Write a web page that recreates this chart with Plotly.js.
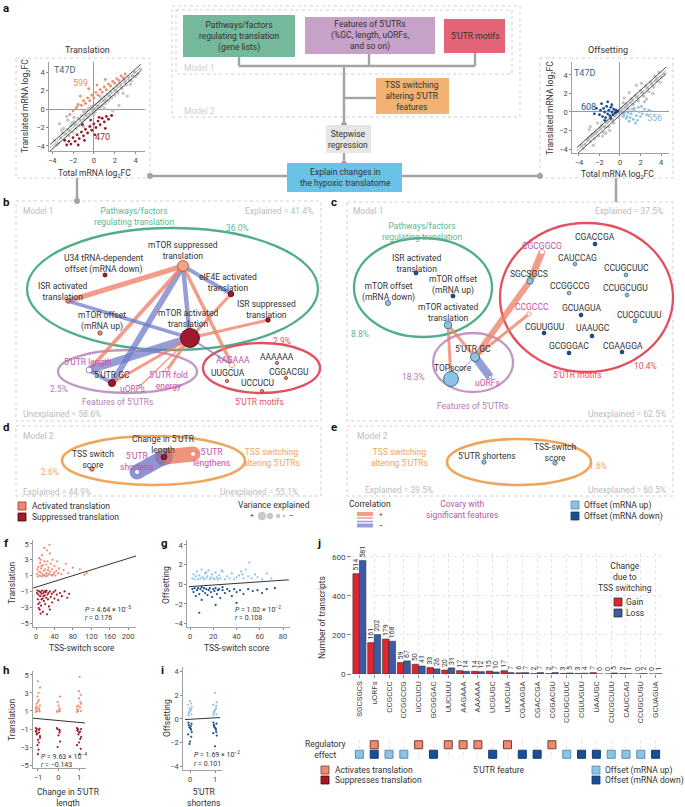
<!DOCTYPE html>
<html><head><meta charset="utf-8">
<script src="https://cdn.plot.ly/plotly-3.0.1.min.js"></script>
<style>body{margin:0;background:#fff}#chart{width:685px;height:807px}</style>
</head><body><div id="chart"></div><script>
// ---------------- DATA ----------------
// panel a: translation scatter (T47D)
const translGrayX=[-3.6,-3.2,-3,-2.8,-2.5,-2.4,-2.2,-2,-1.9,-1.7,-1.5,-1.4,-1.2,-1.1,-1,-0.9,-0.7,-0.6,-0.5,-0.4,-0.2,-0.1,0,0.1,0.2,0.3,0.5,0.6,0.7,0.8,1,1.1,1.3,1.4,1.6,1.7,1.9,2,2.2,2.3,2.5,2.7,2.9,3.1,3.3,3.6,3.9,4.2,-3.3,-2.6,3.2,2.4,1.8,-0.3,-1.6,4.5,-3.8,-3.4,-2.9,-2.7,-2.3,-2.1,-1.8,-1.3,-0.8,-0.6,-0.3,0.4,0.9,1.2,1.5,2.1,2.6,3,3.4,3.7,4,0,-1.9,-2.5,1,2.8,-3.1,3.5,0.6,-1];
const translGrayY=[-3.9,-3.1,-2.6,-3.3,-2.2,-2.9,-1.8,-2.5,-1.4,-2.1,-1,-1.8,-0.7,-1.5,-0.3,-1.1,-0.2,-0.9,0.1,-0.6,0.3,-0.4,0.1,-0.3,0.5,0,0.8,0.2,1.1,0.4,1.3,0.6,1.6,0.9,1.9,1.2,2.2,1.5,2.5,1.8,2.8,2.2,3.2,2.6,3.5,3.1,4,3.8,-1.6,-0.8,1.4,0.4,-0.2,-1.8,0.3,4.3,-3.4,-3.7,-2.1,-2.7,-2.4,-1.5,-1.7,-1.2,-0.6,-0.1,0,0.3,0.9,0.9,1.4,2,2.4,2.9,3.1,3.6,3.5,-0.6,-0.9,-1.2,0.1,1.7,-2.3,2.7,1.4,-1.9];
const translUpX=[-2.3,-2,-1.7,-1.5,-1.2,-1,-0.8,-0.6,-0.4,-0.2,0,0.2,0.4,0.6,0.8,1,1.2,1.4,1.6,1.8,2,2.2,2.4,2.6,2.8,3,-0.5,0.3,1.1,-1.3];
const translUpY=[-0.6,-0.2,0.1,0.5,0.4,0.9,0.6,1.2,0.9,1.5,1.2,1.8,1.5,2.1,1.8,2.4,2.1,2.7,2.5,3,2.8,3.3,3.1,3.6,3.4,3.8,2.2,2.6,3.2,1.4];
const translDownX=[-2.6,-2.4,-2.2,-2,-1.8,-1.6,-1.4,-1.2,-1,-0.8,-0.6,-0.4,-0.2,0,0.2,0.4,0.6,0.8,1,1.2,1.4,1.7,-1.5,-0.9,0.1,-2.8,-0.3,0.5,1.1,-1.1];
const translDownY=[-3.9,-3.5,-3.8,-3.1,-3.5,-2.8,-3.2,-2.5,-2.9,-2.2,-2.6,-1.9,-2.3,-1.6,-2,-1.3,-1.7,-1,-1.4,-0.8,-1.1,-0.7,-3.9,-3.4,-2.8,-3.4,-1.2,-0.9,-2.1,-1.7];
// panel a: offsetting scatter
const offGrayX=[-3.8,-3.4,-3.1,-2.9,-2.7,-2.5,-2.3,-2.1,-1.9,-1.6,-1.3,-1.1,-0.9,-0.6,-0.4,-0.1,0.1,0.3,0.6,0.8,1.1,1.3,1.5,1.8,2,2.3,2.5,2.8,3,3.3,3.6,3.9,4.3,-3,-2.2,-1.4,0.4,1.6,2.6,3.4,-0.8,0.9,2.1,-2.6,3.8,-3.6,-3.2,-2.8,-2.4,-2,-1.8,-1.5,-1.2,-0.7,-0.5,-0.3,0,0.2,0.5,0.7,1,1.2,1.7,2.2,2.7,3.1,3.5,4,-1,1.4,2.4,-2.9,3.2,0.3,-1.7];
const offGrayY=[-3.6,-3.5,-2.8,-3.2,-2.4,-2.9,-2.1,-2.6,-1.7,-2.2,-1.1,-1.6,-0.7,-1.2,-0.2,-0.6,0.4,-0.1,0.9,0.3,1.4,0.8,1.8,1.2,2.3,1.7,2.8,2.2,3.2,2.7,3.6,3.2,4.1,-1.9,-1.2,-2.3,1.5,2.9,1.4,3.9,0.6,2.1,3.1,-3.6,4.3,-3.9,-3,-2.6,-2.3,-1.8,-1.4,-1.6,-1,-0.9,-0.4,0.2,0,0.1,0.5,0.7,1,1.3,1.6,2.1,2.6,3,3.4,3.8,-2,0.4,1.1,-1.6,2,1,-2.6];
const offDownX=[-2,-1.9,-1.7,-1.6,-1.5,-1.4,-1.3,-1.2,-1.1,-1,-0.9,-0.8,-0.7,-0.6,-0.5,-0.4,-0.3,-0.2,-1.8,-1.2,-0.8,-2.3,-2.5,-1.5,-0.9];
const offDownY=[-0.3,0.2,-0.5,0.4,0,-0.6,0.6,-0.2,0.2,-0.4,0.5,0,-0.3,0.3,-0.1,0.2,0,0.1,0.9,1.1,0.8,0.4,-0.2,-0.9,-0.7];
const offUpX=[0.2,0.4,0.5,0.7,0.8,1,1.1,1.3,1.4,1.6,1.7,1.9,2,2.2,2.4,2.6,0.9,1.2,1.8,2.8,0.6,1.5,2.1,3,0.3];
const offUpY=[-0.1,-0.3,0,-0.5,-0.1,-0.6,-0.2,-0.8,0.1,-0.4,-0.9,0,-0.5,-0.2,0.3,-0.3,-1,0.3,0.5,0.2,-0.7,-1.2,0.6,0.1,-0.5];
const diagX=[-4.2,4.5];
const diagMid=[-4.2,4.5];
const diagUpper=[-3.85,4.85];
const diagLower=[-4.55,4.15];
// panel f: translation vs TSS-switch score
const fActX=[2,4,5,6,7,8,9,10,11,12,13,14,15,16,17,18,19,20,21,22,23,24,25,26,27,28,29,30,32,33,35,36,38,40,42,44,46,48,50,55,60,65,70,80,95,105,110,30,18,10,3,12,25,40,36];
const fActY=[1.2,0.9,2.1,1.5,3.2,1,2.6,1.4,1.9,0.9,3.6,1.2,2.3,1,1.6,2.8,1.1,1.8,0.9,2.4,1.3,4.2,1,1.7,2,1.2,4.9,1.5,2.5,1.1,1.8,3,1.2,2.2,1,1.6,2.8,1.3,1.9,1.2,1.7,2.5,1.3,2,1.8,1.1,1.3,3.8,4.5,3,1.8,2.2,2.8,1.4,1];
const fSupX=[2,3,4,5,6,7,8,9,10,11,12,13,14,15,16,17,18,19,20,21,22,23,24,25,26,27,28,30,32,34,35,38,40,42,45,48,52,56,62,68,72,8,12,16,20,5,30,10];
const fSupY=[-1.2,-0.9,-2,-1.4,-3.1,-1,-2.4,-1.6,-1.1,-2.8,-1.3,-0.9,-1.9,-3.6,-1.2,-2.2,-1,-1.5,-2.6,-1.1,-1.8,-0.9,-3.9,-1.4,-2,-1.2,-2.9,-1,-1.7,-1.3,-2.4,-1.1,-1.9,-0.9,-1.4,-2.1,-1.2,-1.6,-1,-1.8,-1.3,-3.3,-2,-1.6,-1,-2.6,-3.3,-3.8];
const fFitX=[-6,217], fFitY=[-0.57,3.48];
// panel g: offsetting vs TSS-switch score
const gUpX=[2,3,4,5,6,7,8,9,10,11,12,13,14,15,16,17,18,19,20,21,22,23,24,25,26,28,30,32,34,36,38,40,42,44,46,48,50,51,53,56,58,62,66,70,45,14,27];
const gUpY=[0.6,1,0.5,0.8,1.3,0.5,0.9,0.6,1.5,0.7,0.5,1.1,0.6,0.8,1.4,0.5,0.7,1,0.6,0.5,1.2,0.7,0.5,0.9,0.6,1.3,0.5,0.8,0.6,1.1,0.5,0.7,0.9,1.3,0.6,1.5,0.8,2.2,0.6,1,0.7,0.5,1.1,0.6,1,1.2,1.4];
const gDownX=[2,3,4,5,6,7,8,9,10,11,12,13,14,15,16,17,18,19,20,21,22,23,24,25,26,28,30,32,34,36,38,40,43,46,50,54,58,62,66,73,8,22,40,10,28];
const gDownY=[-0.5,-0.8,-0.4,-1.2,-0.6,-0.4,-1,-0.5,-1.6,-0.7,-0.4,-0.9,-0.5,-1.1,-0.6,-0.4,-0.8,-1.3,-0.5,-0.7,-0.4,-1,-0.6,-0.5,-1.4,-0.6,-0.9,-0.5,-0.7,-1.2,-0.5,-0.8,-0.6,-1,-0.5,-0.7,-0.6,-0.9,-0.5,-0.4,-2.9,-2.1,-1.9,-0.3,-0.3];
const gFitX=[-1,85], gFitY=[-0.25,0.45];
// panel h: translation vs change in 5'UTR length
const hActX=[-1.05,-0.95,-1.1,-0.9,-1,-1.08,-0.92,-1.02,-0.97,-1.06,-0.94,-1,-1.04,-0.96,-1.1,-0.9,-0.05,0.05,-0.08,0.08,0,0.04,-0.04,0.06,0.95,1.05,0.9,1.1,1,0.92,1.08,0.97,1.03,0.94,1.06,1,0.9,1.1];
const hActY=[1,1.3,0.9,1.6,2,1.2,0.95,2.6,3,1.8,1.1,4.3,1.5,2.2,1.4,3.6,1,1.3,0.9,2.6,1.6,1.1,2,0.95,1,1.4,0.9,1.8,2.4,1.2,2.8,1.6,4.8,1.1,2,3.2,1.5,1];
const hSupX=[-1.05,-0.95,-1.1,-0.9,-1,-1.08,-0.92,-1.02,-0.97,-1.06,-0.94,-1,-1.04,-0.96,-1.1,-0.9,-0.05,0.05,-0.08,0.08,0,0.04,-0.04,0.06,0.95,1.05,0.9,1.1,1,0.92,1.08,0.97,1.03,0.94,1.06,1,0.9,1.1];
const hSupY=[-1,-1.4,-0.9,-1.8,-2.2,-1.2,-0.95,-2.8,-3.3,-1.6,-1.1,-3.8,-1.5,-2.5,-1.3,-2,-1,-1.4,-0.9,-2.4,-1.7,-1.1,-3,-1.2,-1,-1.3,-0.9,-1.9,-2.5,-1.2,-3.2,-1.6,-3.8,-1.1,-2.1,-1.4,-2.8,-1];
const hFitX=[-1.24,1.29], hFitY=[0.2,-0.33];
// panel i: offsetting vs 5'UTR shortens
const iUpX=[-0.05,0.04,-0.07,0.06,0,-0.03,0.07,-0.06,0.02,0.05,-0.02,0.95,1.04,0.93,1.06,1,0.97,1.07,0.94,1.02,1.05,0.98];
const iUpY=[0.5,0.8,1.2,0.4,1.5,0.6,1,0.3,0.7,1.3,0.9,0.5,0.9,1.2,0.4,2.2,0.6,1.4,0.3,0.8,1.1,0.7];
const iDownX=[-0.05,0.04,-0.07,0.06,0,-0.03,0.07,-0.06,0.02,0.05,-0.02,0.03,0.95,1.04,0.93,1.06,1,0.97,1.07,0.94,1.02,1.05,0.98];
const iDownY=[-0.5,-0.9,-1.3,-0.4,-1.9,-0.7,-1.1,-0.3,-0.8,-1.5,-2.1,-0.6,-0.5,-0.9,-1.2,-0.4,-2.3,-0.6,-1.4,-0.3,-0.8,-1.1,-0.7];
const iFitX=[-0.2,1.2], iFitY=[-0.05,0.12];
// panel j: transcripts gaining / losing features
const motifs=['SGCSGCS','uORFs','CCGCCC','CCGGCCG','UCCUCU','GCGGGAC','UUCUUU','AAGAAA','AAAAAA','UCGUGC','UUGCUA','CGAAGGA','CGACCGA','CGGACGU','CCUGCUUC','CGUUGUU','UAAUGC','CUCGCUUU','CAUCCAG','CCUGCUGU','GCUAGUA'];
const gainCounts=[514,161,179,59,50,33,20,17,14,15,17,6,2,2,3,3,7,0,2,0,0];
const lossCounts=[581,202,168,67,41,26,31,14,12,10,7,7,7,7,5,4,0,5,1,2,1];
const translationEffect=['','act','','','act','','act','act','act','','act','','','act','','','','','','',''];
const offsetEffect=['up','down','up','up','','down','','','','down','','down','down','','up','down','down','up','up','up','down'];

// ---------------- STYLE / LAYOUT HELPERS ----------------
const F='Roboto, Arial, sans-serif';
const W=685,H=807;
const PX=x=>x/W, PY=y=>1-y/H;
const dx=(a,b)=>[PX(a),PX(b)], dy=(t,b)=>[PY(b),PY(t)];
const SAL='#f08a6e', DRED='#9e1a2c', LBLUE='#8cc2e2', DBLUE='#1b4f94', GRAY='#c6c6c6';
const GREEN='#52ad8a', PURP='#c197c6', PURPT='#b57bb8', RED='#e2505f', ORG='#f0a55d', MAG='#c254a4', DARK='#333', LG='#bdbdbd';
const POS='rgba(240,128,104,0.78)', NEG='rgba(110,120,200,0.72)';

function axBase(e){return Object.assign({showgrid:false,zeroline:false,showline:true,linecolor:'#8a8a8a',linewidth:0.8,ticks:'outside',ticklen:2,tickcolor:'#8a8a8a',tickfont:{size:7.5,color:'#444',family:F},fixedrange:true},e);}
function pts(x,y,c,xa,ya,s){return {type:'scatter',mode:'markers',x:x,y:y,xaxis:xa,yaxis:ya,marker:{color:c,size:s||2.6},hoverinfo:'skip',showlegend:false,cliponaxis:false};}
function ln(x,y,c,w,xa,ya){return {type:'scatter',mode:'lines',x:x,y:y,xaxis:xa,yaxis:ya,line:{color:c,width:w},hoverinfo:'skip',showlegend:false};}

const traces=[];
// panel a
traces.push(pts(translGrayX,translGrayY,GRAY,'x','y',3.4));
traces.push(pts(translUpX,translUpY,SAL,'x','y',2.8));
traces.push(pts(translDownX,translDownY,DRED,'x','y',2.8));
traces.push(ln(diagX,diagMid,'#777',0.6,'x','y'));
traces.push(ln(diagX,diagUpper,'#222',0.8,'x','y'));
traces.push(ln(diagX,diagLower,'#222',0.8,'x','y'));
traces.push(pts(offGrayX,offGrayY,GRAY,'x2','y2',3.4));
traces.push(pts(offDownX,offDownY,DBLUE,'x2','y2',2.8));
traces.push(pts(offUpX,offUpY,LBLUE,'x2','y2',2.8));
traces.push(ln(diagX,diagMid,'#777',0.6,'x2','y2'));
traces.push(ln(diagX,diagUpper,'#222',0.8,'x2','y2'));
traces.push(ln(diagX,diagLower,'#222',0.8,'x2','y2'));
// f g h i
traces.push(pts(fActX,fActY,SAL,'x3','y3',2.2));
traces.push(pts(fSupX,fSupY,DRED,'x3','y3',2.2));
traces.push(ln(fFitX,fFitY,'#333',1,'x3','y3'));
traces.push(pts(gUpX,gUpY,LBLUE,'x4','y4',2.2));
traces.push(pts(gDownX,gDownY,DBLUE,'x4','y4',2.2));
traces.push(ln(gFitX,gFitY,'#333',1,'x4','y4'));
traces.push(pts(hActX,hActY,SAL,'x5','y5',2.2));
traces.push(pts(hSupX,hSupY,DRED,'x5','y5',2.2));
traces.push(ln(hFitX,hFitY,'#333',1,'x5','y5'));
traces.push(pts(iUpX,iUpY,LBLUE,'x6','y6',2.2));
traces.push(pts(iDownX,iDownY,DBLUE,'x6','y6',2.2));
traces.push(ln(iFitX,iFitY,'#333',1,'x6','y6'));
// j bars
traces.push({type:'bar',x:motifs,y:gainCounts,xaxis:'x7',yaxis:'y7',marker:{color:'#e3232f',line:{color:'#333',width:0.6}},text:gainCounts.map(String),textposition:'outside',textangle:-90,constraintext:'none',textfont:{size:7,color:'#333',family:F},cliponaxis:false,hoverinfo:'skip',showlegend:false});
traces.push({type:'bar',x:motifs,y:lossCounts,xaxis:'x7',yaxis:'y7',marker:{color:'#3a5ca8',line:{color:'#333',width:0.6}},text:lossCounts.map(String),textposition:'outside',textangle:-90,constraintext:'none',textfont:{size:7,color:'#333',family:F},cliponaxis:false,hoverinfo:'skip',showlegend:false});
// regulatory effect squares
const actX=motifs.filter((m,i)=>translationEffect[i]==='act');
const upX=motifs.filter((m,i)=>offsetEffect[i]==='up');
const downX=motifs.filter((m,i)=>offsetEffect[i]==='down');
traces.push({type:'scatter',mode:'markers',x:actX,y:actX.map(()=>1),xaxis:'x7',yaxis:'y8',marker:{symbol:'square',size:8,color:'#ee8a72',line:{color:'#7a3e2e',width:1}},hoverinfo:'skip',showlegend:false,cliponaxis:false});
traces.push({type:'scatter',mode:'markers',x:upX,y:upX.map(()=>0),xaxis:'x7',yaxis:'y8',marker:{symbol:'square',size:8,color:'#8cc4e4',line:{color:'#5a8db0',width:1}},hoverinfo:'skip',showlegend:false,cliponaxis:false});
traces.push({type:'scatter',mode:'markers',x:downX,y:downX.map(()=>0),xaxis:'x7',yaxis:'y8',marker:{symbol:'square',size:8,color:'#1a4f96',line:{color:'#123a70',width:1}},hoverinfo:'skip',showlegend:false,cliponaxis:false});

// ---------------- DIAGRAM (pixel overlay) ----------------
const WH='#ffffff';
const nodesB={
 mtorSup:[183,266,5.5,'#f4a486','#a5523b'], u34:[105,275,2,DRED,'#500'], eif4e:[231,294,2.8,DRED,'#500'],
 isrAct:[68,301,2.2,SAL,'#8a3a28'], isrSup:[268,320,2.2,DRED,'#500'], mtorOffUp:[100,333,2.2,SAL,'#8a3a28'],
 mtorAct:[190,338,9.5,DRED,'#4a0a12'], aagaaa:[232,365,2.6,WH,SAL], aaaaaa:[277,363,1.6,SAL,'#8a3a28'],
 uugcua:[227,381,1.6,SAL,'#8a3a28'], cggacgu:[286,378,1.6,SAL,'#8a3a28'], uccucu:[262,391,1.6,SAL,'#8a3a28'],
 len:[89,370,3,WH,'#7b78b8'], gc:[112,383,3.6,DRED,'#500'], fold:[167,370,2.2,WH,SAL], uorfs:[140,386,1.5,WH,'#7b78b8']
};
const edgesB=[['mtorSup','isrAct',1,5],['mtorSup','eif4e',-1,4],['mtorSup','mtorAct',-1,4.5],['mtorSup','gc',-1,6],['mtorSup','len',1,4],['mtorSup','aagaaa',1,3.5],
 ['mtorAct','len',-1,8],['mtorAct','gc',1,3],['mtorAct','isrAct',-1,3.5],['mtorAct','eif4e',1,3],['mtorAct','isrSup',1,3],['mtorAct','aagaaa',-1,2],['mtorAct','fold',1,3],['mtorAct','uorfs',1,1.5],['len','gc',-1,4]];
const nodesC={
 isrAct:[416,273,2,DBLUE,'#0d2d5a'], mtorOffDown:[388,303,2.6,LBLUE,'#3c6b8a'], mtorOffUp:[453,296,2,DBLUE,'#0d2d5a'],
 mtorAct:[448,325,3.8,LBLUE,'#3c6b8a'], gc:[475,357,4.5,LBLUE,'#2c5b7a'], top:[451,379,7.5,LBLUE,'#2c5b7a'], uorfs:[490,377,1.6,WH,'#7b78b8'],
 cgcggcg:[542,252,2.6,WH,SAL], sgcsgcs:[530,281,3.2,LBLUE,'#3c6b8a'], ccgccc:[529,314,2.2,WH,SAL],
 cgaccga:[595,244,1.9,DBLUE,'#0d2d5a'], caucag:[575,264,1.9,LBLUE,'#3c6b8a'], ccugcuuc:[626,275,1.9,LBLUE,'#3c6b8a'],
 ccggccg:[569,293,1.9,LBLUE,'#3c6b8a'], ccugcugu:[627,295,1.9,LBLUE,'#3c6b8a'], gcuagua:[581,315,1.9,DBLUE,'#0d2d5a'],
 cucgcuuu:[635,321,1.9,LBLUE,'#3c6b8a'], cguuguu:[544,333,1.9,DBLUE,'#0d2d5a'], uaaugc:[592,336,1.9,DBLUE,'#0d2d5a'],
 gcgggac:[569,353,1.9,DBLUE,'#0d2d5a'], cgaagga:[622,352,1.9,DBLUE,'#0d2d5a']
};
const edgesC=[['sgcsgcs','cgcggcg',1,7],['gc','sgcsgcs',1,6],['gc','ccgccc',1,3],['mtorAct','gc',1,3],['mtorAct','top',1,3],['top','gc',-1,1],['gc','uorfs',-1,8]];
const nodesD={tss:[92,469,2.2,SAL,'#8a3a28'], change:[164,457,2.8,DRED,'#500'], short:[137,472,1.6,WH,WH], long:[193,454,1.6,WH,WH],
 eShort:[484,462,2.2,LBLUE,'#3c6b8a'], eTss:[555,463,2.2,LBLUE,'#3c6b8a']};

function nodeTrace(n){const k=Object.keys(n);return {type:'scatter',mode:'markers',xaxis:'x9',yaxis:'y9',x:k.map(q=>n[q][0]),y:k.map(q=>n[q][1]),marker:{size:k.map(q=>n[q][2]*2),color:k.map(q=>n[q][3]),line:{color:k.map(q=>n[q][4]),width:0.8},opacity:1},hoverinfo:'skip',showlegend:false,cliponaxis:false};}
traces.push(nodeTrace(nodesB));traces.push(nodeTrace(nodesC));traces.push(nodeTrace(nodesD));

const shapes=[];
function rect(x0,y0,x1,y1,fill,lc,lw,dash){shapes.push({type:'rect',xref:'x9',yref:'y9',layer:'below',x0,y0,x1,y1,fillcolor:fill||'rgba(0,0,0,0)',line:{color:lc||'rgba(0,0,0,0)',width:lw||0,dash:dash||'solid'}});}
function dbox(x0,y0,x1,y1){rect(x0,y0,x1,y1,null,'#cfcfcf',1,'dot');}
function ell(x0,y0,x1,y1,c,w){shapes.push({type:'circle',xref:'x9',yref:'y9',layer:'below',x0,y0,x1,y1,line:{color:c,width:w||2.3}});}
function seg(x0,y0,x1,y1,c,w){shapes.push({type:'line',xref:'x9',yref:'y9',layer:'below',x0,y0,x1,y1,line:{color:c,width:w}});}
function dot(x,y,r,c,lc){shapes.push({type:'circle',xref:'x9',yref:'y9',layer:'below',x0:x-r,y0:y-r,x1:x+r,y1:y+r,fillcolor:c,line:{color:lc||c,width:lc?0.8:0}});}

// dashed frames
dbox(172,6,520,117); dbox(176,10,512,74);
dbox(16,58,150,178); dbox(540,58,673,178);
dbox(16,201,321,421); dbox(347,202,673,421);
dbox(16,426,321,496); dbox(347,426,673,496);
// connectors
const CC='#a3a3a3';
[[239,57,239,66],[239,66,475,66],[369,53,369,66],[475,53,475,66],[344,66,344,125],[344,98,376,98],[344,153,344,164],[150,176,287,176],[402,176,540,176],[77,178,77,201],[616,178,616,202]].forEach(s=>seg(s[0],s[1],s[2],s[3],CC,2.4));
[[344,125],[344,164],[150,176],[540,176],[77,201]].forEach(p=>dot(p[0],p[1],3,CC));
// boxes in a
rect(183,15,295,57,'#74b99b');
rect(305,17,435,54,'#c6a1c8');
rect(444,19,505,53,'#e26476');
rect(376,78,449,114,'#f2b273');
rect(326,125,371,153,'#e6e6e6');
rect(287,163,402,192,'#68c3e7');
// ellipses
ell(27,228,318,350,GREEN); ell(58,350,197,393,PURP); ell(203,343,320,393,RED);
ell(354,238,492,337,GREEN); ell(433,333,513,392,PURP); ell(500,223,673,372,RED);
ell(62,436,245,485,ORG,2.6); ell(447,439,591,485,ORG,2.6);
// edges
function edges(n,e){e.forEach(([a,b,s,w])=>seg(n[a][0],n[a][1],n[b][0],n[b][1],s>0?POS:NEG,w));}
edges(nodesB,edgesB); edges(nodesC,edgesC);
// capsules in d
seg(137,472,164,457,'#8e93d4',15); dot(137,472,7.5,'#8e93d4');
seg(164,457,193,454,'#f1937c',15); dot(193,454,7.5,'#f1937c');
dot(164,457,9,'rgba(140,90,130,0.45)');
// legends
rect(18,502,26,510,SAL,'#8a3a28',0.8); rect(18,513,26,521,DRED,'#500',0.8);
[[262,4.2],[270,3.2],[278,2.2],[284,1.4]].forEach(c=>dot(c[0],516,c[1],'#c8c8c8'));
seg(357,514,373,514,POS,4); seg(357,518,373,518,POS,1.5); seg(357,521.5,373,521.5,NEG,1.5); seg(357,525.5,373,525.5,NEG,4);
rect(571,501,579,509,LBLUE,'#5a8db0',0.8); rect(571,512,579,520,DBLUE,'#123a70',0.8);
rect(614,598,622,606,'#e3232f','#333',0.8); rect(614,609,622,617,'#3a5ca8','#333',0.8);
rect(321,766,329,774,'#ee8a72','#7a3e2e',0.8); rect(321,776,329,784,DRED,'#500',0.8);
rect(592,766,600,774,'#8cc4e4','#5a8db0',0.8); rect(592,776,600,784,'#1a4f96','#123a70',0.8);

// ---------------- TEXT ----------------
const ann=[];
function T(x,y,text,o){o=o||{};ann.push({xref:'x9',yref:'y9',x,y,text,showarrow:false,xanchor:o.a||'center',yanchor:'middle',align:o.a==='left'?'left':(o.a==='right'?'right':'center'),textangle:o.r||0,font:{size:o.s||8.5,color:o.c||DARK,family:F,weight:o.b?'bold':'normal'}});}
// panel letters
[['a',6,8],['b',6,202],['c',334,202],['d',6,427],['e',334,427],['f',6,543],['g',164,543],['j',319,543],['h',6,670],['i',162,670]].forEach(l=>T(l[1],l[2],l[0],{s:11.5,b:1,c:'#111'}));
// panel a
T(87,50,'Translation',{s:9});
T(608,50,'Offsetting',{s:9});
T(64,70,'T47D',{c:'#2c6e8e',s:9});
T(80,83,'599',{c:SAL,s:9});
T(102,137,'470',{c:DRED,s:9});
T(25,106,'Translated mRNA log<sub>2</sub>FC',{r:-90,s:8.5});
T(94,173,'Total mRNA log<sub>2</sub>FC',{s:8.5});
T(584,73,'T47D',{c:'#2c6e8e',s:9});
T(588,107,'608',{c:DBLUE,s:9});
T(654,118,'556',{c:'#7ab8dc',s:9});
T(550,108,'Translated mRNA log<sub>2</sub>FC',{r:-90,s:8.5});
T(617,174,'Total mRNA log<sub>2</sub>FC',{s:8.5});
T(239,36,'Pathways/factors<br>regulating translation<br>(gene lists)',{s:8.5});
T(370,35,'Features of 5′UTRs<br>(%GC, length, uORFs,<br>and so on)',{s:8.5});
T(475,36,'5′UTR motifs',{s:8.5});
T(412,96,'TSS switching<br>altering 5′UTR<br>features',{s:8.5});
T(348,139,'Stepwise<br>regression',{s:8.5});
T(345,177,'Explain changes in<br>the hypoxic translatome',{s:8.5});
T(182,68,'Model 1',{a:'left',c:'#cfcfcf',s:8.5});
T(182,111,'Model 2',{a:'left',c:'#cfcfcf',s:8.5});
// panel b
T(21,211,'Model 1',{a:'left',c:LG});
T(134,216,'Pathways/factors<br>regulating translation',{c:'#5db892'});
T(315,211,'Explained = 41.4%',{a:'right',c:LG});
T(237,228,'36.0%',{c:'#5db892'});
T(183,250,'mTOR suppressed<br>translation');
T(103,264,'U34 tRNA-dependent<br>offset (mRNA down)');
T(228,282,'eIF4E activated<br>translation');
T(63,291,'ISR activated<br>translation');
T(266,309,'ISR suppressed<br>translation');
T(102,321,'mTOR offset<br>(mRNA up)');
T(188,318,'mTOR activated<br>translation');
T(282,341,'2.9%',{c:RED});
T(233,360,'AAGAAA',{c:MAG});
T(277,357,'AAAAAA');
T(228,373,'UUGCUA');
T(288,372,'CGGACGU');
T(257,383,'UCCUCU');
T(88,362,'5′UTR length',{c:MAG});
T(112,375,'5′UTR GC');
T(168,380,'5′UTR fold<br>energy',{c:MAG});
T(132,389,'uORFs',{c:MAG});
T(59,389,'2.5%',{c:PURPT});
T(117,402,'Features of 5′UTRs',{c:PURPT});
T(259,402,'5′UTR motifs',{c:RED});
T(21,414,'Unexplained = 58.6%',{a:'left',c:LG});
// panel c
T(351,211,'Model 1',{a:'left',c:LG});
T(665,211,'Explained = 37.5%',{a:'right',c:LG});
T(422,231,'Pathways/factors<br>regulating translation',{c:'#5db892'});
T(417,263,'ISR activated<br>translation');
T(388,292,'mTOR offset<br>(mRNA down)');
T(453,285,'mTOR offset<br>(mRNA up)');
T(448,312,'mTOR activated<br>translation');
T(360,334,'8.8%',{c:'#5db892'});
T(473,349,'5′UTR GC');
T(453,368,'TOPscore');
T(487,383,'uORFs',{c:MAG});
T(413,377,'18.3%',{c:PURPT});
T(542,246,'CGCGGCG',{c:MAG});
T(529,274,'SGCSGCS');
T(532,307,'CCGCCC',{c:MAG});
T(595,237,'CGACCGA');T(577,258,'CAUCCAG');T(626,268,'CCUGCUUC');T(570,286,'CCGGCCG');T(625,288,'CCUGCUGU');
T(581,308,'GCUAGUA');T(639,315,'CUCGCUUU');T(544,327,'CGUUGUU');T(593,328,'UAAUGC');T(569,346,'GCGGGAC');T(623,346,'CGAAGGA');
T(645,366,'10.4%',{c:RED});
T(577,375,'5′UTR motifs',{c:RED});
T(472,406,'Features of 5′UTRs',{c:PURPT});
T(668,414,'Unexplained = 62.5%',{a:'right',c:LG});
// panel d
T(21,436,'Model 2',{a:'left',c:LG});
T(163,444,'Change in 5′UTR<br>length');
T(93,459,'TSS switch<br>score');
T(136,461,'5′UTR<br>shortens',{c:MAG});
T(211,457,'5′UTR<br>lengthens',{c:MAG});
T(50,472,'2.6%',{c:ORG});
T(271,457,'TSS switching<br>altering 5′UTRs',{c:ORG});
T(21,492,'Explained = 44.9%',{a:'left',c:LG});
T(300,492,'Unexplained = 55.1%',{a:'right',c:LG});
// panel e
T(355,436,'Model 2',{a:'left',c:LG});
T(399,457,'TSS switching<br>altering 5′UTRs',{c:ORG});
T(487,456,'5′UTR shortens');
T(555,452,'TSS-switch<br>score');
T(598,466,'1.6%',{c:ORG});
T(363,490,'Explained = 39.5%',{a:'left',c:LG});
T(668,490,'Unexplained = 60.5%',{a:'right',c:LG});
// legends row
T(30,506,'Activated translation',{a:'left',s:8.5});
T(30,517,'Suppressed translation',{a:'left',s:8.5});
T(274,505,'Variance explained',{s:8.5});
T(252,516,'+',{s:7});T(291,516,'–',{s:7});
T(370,503.5,'Correlation',{s:8.5});
T(381,514.5,'+',{s:6.5});T(381,526,'–',{s:6.5});
T(462,509,'Covary with<br>significant features',{c:MAG,s:8.5});
T(582,505,'Offset (mRNA up)',{a:'left',s:8.5});
T(582,516,'Offset (mRNA down)',{a:'left',s:8.5});
// f g h i
T(12,583,'Translation',{r:-90,s:8.5});
T(166,585,'Offsetting',{r:-90,s:8.5});
T(12,720,'Translation',{r:-90,s:8.5});
T(167,718,'Offsetting',{r:-90,s:8.5});
T(82,648,'TSS-switch score',{s:8.5});
T(237,648,'TSS-switch score',{s:8.5});
T(83,609,'<i>P</i> = 4.64 × 10<sup>−5</sup>',{a:'left',s:7});
T(83,618,'<i>r</i> = 0.176',{a:'left',s:7});
T(233,609,'<i>P</i> = 1.02 × 10<sup>−2</sup>',{a:'left',s:7});
T(233,618,'<i>r</i> = 0.108',{a:'left',s:7});
T(39,756,'<i>P</i> = 9.63 × 10<sup>−4</sup>',{a:'left',s:7});
T(39,765,'<i>r</i> = −0.143',{a:'left',s:7});
T(192,754,'<i>P</i> = 1.69 × 10<sup>−2</sup>',{a:'left',s:7});
T(192,764,'<i>r</i> = 0.101',{a:'left',s:7});
T(68,797,'Change in 5′UTR<br>length',{s:8.5});
T(203,797,'5′UTR<br>shortens',{s:8.5});
// j
T(322,618,'Number of transcripts',{r:-90,s:8.5});
T(625,577,'Change<br>due to<br>TSS switching',{s:8.5});
T(624,602,'Gain',{a:'left',s:8.5});
T(624,613,'Loss',{a:'left',s:8.5});
T(325,749,'Regulatory<br>effect',{s:8.5});
T(333,770,'Activates translation',{a:'left',s:8.5});
T(333,780,'Suppresses translation',{a:'left',s:8.5});
T(498,770,'5′UTR feature',{s:8.5});
T(603,770,'Offset (mRNA up)',{a:'left',s:8.5});
T(603,780,'Offset (mRNA down)',{a:'left',s:8.5});

const zl={zeroline:true,zerolinecolor:'#9a9a9a',zerolinewidth:1};
const layout={
 width:W,height:H,margin:{l:0,r:0,t:0,b:0},paper_bgcolor:'#fff',plot_bgcolor:'rgba(0,0,0,0)',
 font:{family:F,color:DARK},showlegend:false,barmode:'group',bargap:0.12,bargroupgap:0,
 xaxis:axBase(Object.assign({domain:dx(49,145),range:[-4.3,4.9],tickvals:[-4,-2,0,2,4],anchor:'y'},zl)),
 yaxis:axBase(Object.assign({domain:dy(62,151),range:[-4.55,5.1],tickvals:[-4,-2,0,2,4],anchor:'x'},zl)),
 xaxis2:axBase(Object.assign({domain:dx(572,669),range:[-4.68,4.78],tickvals:[-4,-2,0,2,4],anchor:'y2'},zl)),
 yaxis2:axBase(Object.assign({domain:dy(62,153),range:[-4.43,5.4],tickvals:[-4,-2,0,2,4],anchor:'x2'},zl)),
 xaxis3:axBase({domain:dx(33,136),range:[-6.5,217],tickvals:[0,40,80,120,160,200],anchor:'y3'}),
 yaxis3:axBase({domain:dy(540,627),range:[-5.5,5.5],tickvals:[-5,-3,-1,1,3,5],anchor:'x3'}),
 xaxis4:axBase({domain:dx(187,290),range:[-2.6,86],tickvals:[0,20,40,60,80],anchor:'y4'}),
 yaxis4:axBase({domain:dy(540,627),range:[-4.35,4.5],tickvals:[-4,-2,0,2,4],anchor:'x4'}),
 xaxis5:axBase({domain:dx(33,86),range:[-1.24,1.34],tickvals:[-1,0,1],anchor:'y5'}),
 yaxis5:axBase({domain:dy(671,768),range:[-5.33,5.44],tickvals:[-5,-3,-1,1,3,5],anchor:'x5'}),
 xaxis6:axBase({domain:dx(183,222),range:[-0.28,1.28],tickvals:[0,1],anchor:'y6'}),
 yaxis6:axBase({domain:dy(667,770),range:[-4.3,4.38],tickvals:[-4,-2,0,2,4],anchor:'x6'}),
 xaxis7:axBase({domain:dx(352,663),type:'category',categoryorder:'array',categoryarray:motifs,range:[-0.5,20.5],tickangle:-90,tickfont:{size:8,color:'#444',family:F},ticklen:3,showline:false,showgrid:true,gridcolor:'#dedede',griddash:'dot',gridwidth:0.8,anchor:'y7'}),
 yaxis7:axBase({domain:dy(553,674),range:[0,620],tickvals:[0,200,400,600],tickfont:{size:8,color:'#444',family:F},showline:false,showgrid:true,gridcolor:'#dedede',griddash:'dot',gridwidth:0.8,ticklen:4,anchor:'x7'}),
 yaxis8:{domain:dy(740,759),range:[-0.5,1.5],visible:false,fixedrange:true,anchor:'x7'},
 xaxis9:{domain:[0,1],range:[0,W],visible:false,fixedrange:true,anchor:'y9'},
 yaxis9:{domain:[0,1],range:[H,0],visible:false,fixedrange:true,anchor:'x9'},
 shapes:shapes,annotations:ann
};
Plotly.newPlot('chart',traces,layout,{displayModeBar:false,staticPlot:true});
</script></body></html>
